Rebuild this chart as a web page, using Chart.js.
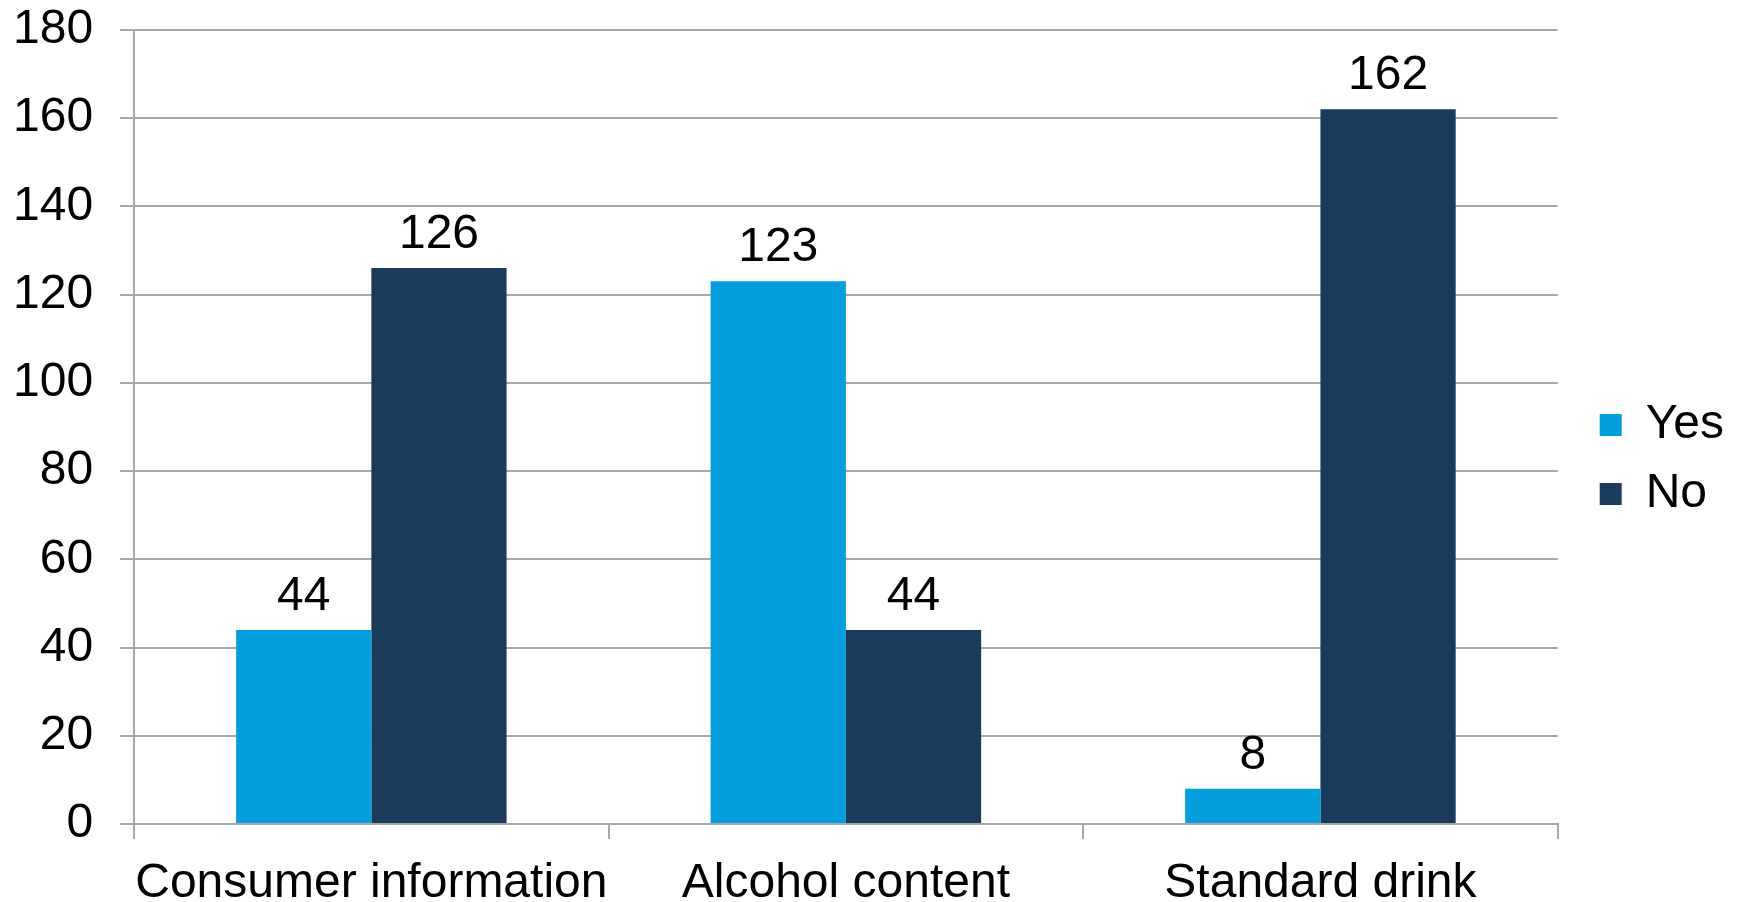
<!DOCTYPE html>
<html>
<head>
<meta charset="utf-8">
<script src="https://cdn.jsdelivr.net/npm/chart.js@4"></script>
<style>
html, body { margin: 0; padding: 0; background: #fff; }
</style>
</head>
<body>
<canvas id="myChart" width="1739" height="902"></canvas>
<script>
const categories = ['Consumer information', 'Alcohol content', 'Standard drink'];
const yesValues = [44, 123, 8];
const noValues = [126, 44, 162];
const seriesNames = ['Yes', 'No'];
const yMax = 180;
const yStep = 20;

const colors = {
    yes: 'rgb(4, 158, 220)',
    no: 'rgb(27, 59, 93)',
    grid: 'rgb(168, 168, 168)'
};

const fontFamily = '"Liberation Sans", Arial, sans-serif';

// numbers above each bar
const valueLabels = {
    id: 'valueLabels',
    afterDatasetsDraw(chart) {
        const ctx = chart.ctx;
        ctx.save();
        ctx.font = '48px ' + fontFamily;
        ctx.fillStyle = '#000';
        ctx.textAlign = 'center';
        ctx.textBaseline = 'alphabetic';
        chart.data.datasets.forEach((ds, i) => {
            chart.getDatasetMeta(i).data.forEach((bar, j) => {
                ctx.fillText(ds.data[j], bar.x, bar.y - 20);
            });
        });
        ctx.restore();
    }
};

// push the legend a bit away from the plot
const legendShift = {
    id: 'legendShift',
    afterLayout(chart) {
        chart.legend.left += 21;
        chart.legend.right += 21;
        chart.legend.top -= 5;
        chart.legend.bottom -= 5;
    }
};

const data = {
    labels: categories,
    datasets: [
        {
            label: seriesNames[0],
            data: yesValues,
            backgroundColor: colors.yes,
            categoryPercentage: 0.57,
            barPercentage: 1.0
        },
        {
            label: seriesNames[1],
            data: noValues,
            backgroundColor: colors.no,
            categoryPercentage: 0.57,
            barPercentage: 1.0
        }
    ]
};

const config = {
    type: 'bar',
    data: data,
    plugins: [valueLabels, legendShift],
    options: {
        responsive: false,
        animation: false,
        layout: {
            padding: { left: -14, right: 26, top: 0, bottom: -27 }
        },
        scales: {
            x: {
                grid: {
                    drawOnChartArea: false,
                    drawTicks: true,
                    tickLength: 15,
                    lineWidth: 2,
                    color: colors.grid
                },
                border: { color: colors.grid, width: 2 },
                ticks: {
                    color: '#000',
                    padding: 21,
                    maxRotation: 0,
                    minRotation: 0,
                    autoSkip: false,
                    font: { family: fontFamily, size: 48, lineHeight: 1.0 }
                }
            },
            y: {
                min: 0,
                max: yMax,
                grid: {
                    color: colors.grid,
                    lineWidth: 2,
                    tickLength: 14
                },
                border: { color: colors.grid, width: 2 },
                ticks: {
                    stepSize: yStep,
                    color: '#000',
                    padding: 27,
                    font: { family: fontFamily, size: 48, lineHeight: 0.12 }
                }
            }
        },
        plugins: {
            legend: {
                position: 'right',
                labels: {
                    color: '#000',
                    boxWidth: 22,
                    boxHeight: 22,
                    padding: 21,
                    font: { family: fontFamily, size: 48 }
                }
            },
            tooltip: { enabled: false }
        }
    }
};

new Chart(document.getElementById('myChart'), config);
</script>
</body>
</html>
